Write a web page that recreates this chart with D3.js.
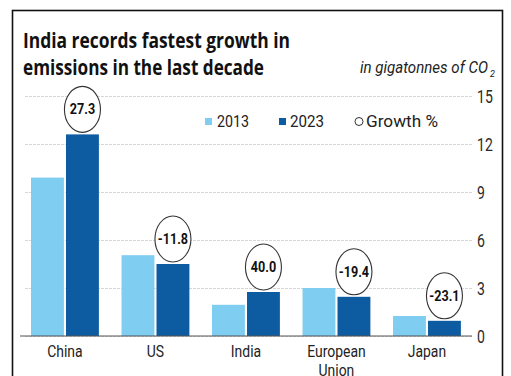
<!DOCTYPE html>
<html>
<head>
<meta charset="utf-8">
<script src="https://cdn.jsdelivr.net/npm/d3@7"></script>
<style>
  html, body { margin: 0; padding: 0; background: #fff; }
  svg { display: block; }
  text { font-family: Roboto, "Liberation Sans", sans-serif; }
</style>
</head>
<body>
<svg width="511" height="376"></svg>
<script>
// ---- data ----
const categories = ["China", "US", "India", "European Union", "Japan"];
const values2013 = [9.9, 5.05, 1.95, 3.0, 1.25];
const values2023 = [12.6, 4.5, 2.75, 2.45, 0.95];
const growth     = ["27.3", "-11.8", "40.0", "-19.4", "-23.1"];
const yTicks     = [0, 3, 6, 9, 12, 15];

const light = "#7fcdf0";
const dark  = "#0d5ba0";

// squeeze text horizontally to fake a condensed face
function squeeze(sel, k) {
    sel.each(function() {
        let w = this.getComputedTextLength();
        d3.select(this)
            .attr("textLength", w * k)
            .attr("lengthAdjust", "spacingAndGlyphs");
    });
}

let svg = d3.select("svg");

// frame
svg.append("rect")
    .attr("x", 12.5).attr("y", 10.5)
    .attr("width", 490).attr("height", 400)
    .attr("fill", "none")
    .attr("stroke", "#111")
    .attr("stroke-width", 1.6);

// scales
let x = d3.scaleBand()
    .domain(categories)
    .range([19.7, 472.2])
    .paddingInner(0.25)
    .paddingOuter(0.125);

let xSub = d3.scaleBand()
    .domain(["2013", "2023"])
    .range([0, x.bandwidth()])
    .paddingInner(0.06);

let y = d3.scaleLinear().domain([0, 15]).range([336, 96]);

// gridlines + tick labels
let axis = d3.axisRight(y)
    .tickValues(yTicks)
    .tickSize(-447)
    .tickFormat(d3.format("d"));

let gAxis = svg.append("g")
    .attr("transform", "translate(472,0)")
    .call(axis);
gAxis.select(".domain").remove();
gAxis.selectAll(".tick line")
    .attr("stroke", "#d6d6d6")
    .attr("stroke-width", 1)
    .attr("stroke-dasharray", "3,1");
let tickText = gAxis.selectAll(".tick text")
    .attr("x", 5)
    .attr("dy", "0.36em")
    .attr("fill", "#2a2a2a")
    .attr("text-anchor", "start")
    .style("font-family", "Roboto, sans-serif")
    .style("font-size", "18px");
squeeze(tickText, 0.78);

// bars
let groups = svg.selectAll(".grp")
    .data(categories)
    .enter()
    .append("g")
    .attr("transform", d => `translate(${x(d)},0)`);

groups.append("rect")
    .attr("x", xSub("2013"))
    .attr("width", xSub.bandwidth())
    .attr("y", (d, i) => y(values2013[i]))
    .attr("height", (d, i) => y(0) - y(values2013[i]))
    .attr("fill", light);

groups.append("rect")
    .attr("x", xSub("2023"))
    .attr("width", xSub.bandwidth())
    .attr("y", (d, i) => y(values2023[i]))
    .attr("height", (d, i) => y(0) - y(values2023[i]))
    .attr("fill", dark);

// baseline
svg.append("line")
    .attr("x1", 20).attr("x2", 472)
    .attr("y1", y(0)).attr("y2", y(0))
    .attr("stroke", "#555")
    .attr("stroke-width", 1.2);

// growth ellipses
const rx = 18, ry = 23;
groups.append("ellipse")
    .attr("cx", xSub("2023") + xSub.bandwidth() / 2)
    .attr("cy", (d, i) => y(values2023[i]) - ry - 2)
    .attr("rx", rx).attr("ry", ry)
    .attr("fill", "#fff")
    .attr("stroke", "#333")
    .attr("stroke-width", 1.1);

let growthText = groups.append("text")
    .attr("x", xSub("2023") + xSub.bandwidth() / 2)
    .attr("y", (d, i) => y(values2023[i]) - ry - 2 + 5)
    .attr("text-anchor", "middle")
    .attr("font-weight", "bold")
    .attr("fill", "#111")
    .style("font-size", "15px")
    .text((d, i) => growth[i]);
squeeze(growthText, 0.84);

// category labels, one text per line (the second line runs off the bottom, as in the print)
let catLines = groups.selectAll(".cat")
    .data(d => d.split(" "))
    .enter()
    .append("text")
    .attr("class", "cat")
    .attr("x", x.bandwidth() / 2)
    .attr("y", (d, i) => 357 + i * 19)
    .attr("text-anchor", "middle")
    .attr("fill", "#222")
    .style("font-size", "17px")
    .text(d => d);
squeeze(catLines, 0.82);

// title
let title = svg.append("text")
    .attr("fill", "#111")
    .attr("font-weight", "bold")
    .style("font-family", "'Open Sans', sans-serif")
    .style("font-size", "22px");
title.append("tspan").attr("x", 23).attr("y", 48)
    .attr("textLength", 267).attr("lengthAdjust", "spacingAndGlyphs")
    .text("India records fastest growth in");
title.append("tspan").attr("x", 23).attr("y", 75)
    .attr("textLength", 241).attr("lengthAdjust", "spacingAndGlyphs")
    .text("emissions in the last decade");

// unit note
svg.append("text")
    .attr("x", 360)
    .attr("y", 73)
    .attr("font-style", "italic")
    .attr("fill", "#222")
    .attr("textLength", 128).attr("lengthAdjust", "spacingAndGlyphs")
    .style("font-size", "17px")
    .text("in gigatonnes of CO");
svg.append("text")
    .attr("x", 490)
    .attr("y", 77)
    .attr("font-style", "italic")
    .attr("fill", "#222")
    .style("font-size", "9px")
    .text("2");

// legend
let legend = svg.append("g");
legend.append("rect").attr("x", 205).attr("y", 118).attr("width", 7).attr("height", 7).attr("fill", light);
legend.append("rect").attr("x", 279).attr("y", 118).attr("width", 7).attr("height", 7).attr("fill", dark);
legend.append("circle").attr("cx", 359).attr("cy", 121.5).attr("r", 4)
    .attr("fill", "none").attr("stroke", "#333").attr("stroke-width", 1);
legend.append("text").attr("x", 217).attr("y", 127).attr("textLength", 32).text("2013");
legend.append("text").attr("x", 290).attr("y", 127).attr("textLength", 34).text("2023");
legend.append("text").attr("x", 366).attr("y", 127).attr("textLength", 72).text("Growth %");
legend.selectAll("text")
    .attr("lengthAdjust", "spacingAndGlyphs")
    .attr("fill", "#222")
    .style("font-size", "17px");
</script>
</body>
</html>
